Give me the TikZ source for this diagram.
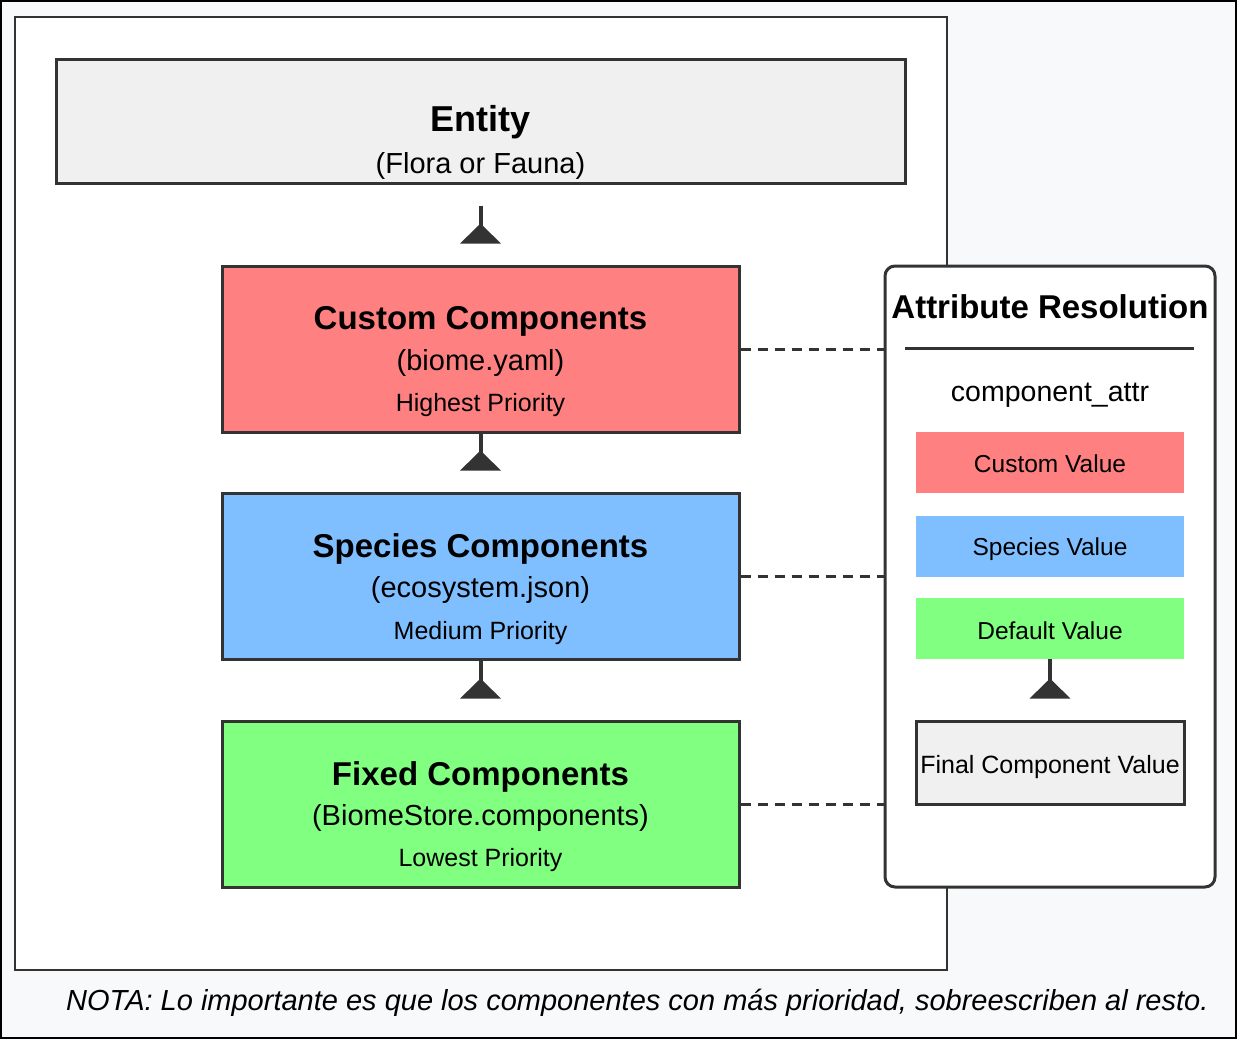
\documentclass[tikz,border=0pt]{standalone}
\usepackage{fontspec}
\setmainfont{Liberation Sans}
\usetikzlibrary{arrows.meta,positioning,calc}
\definecolor{edgegray}{HTML}{333333}
\definecolor{pagebg}{HTML}{F8F9FA}
\definecolor{boxgray}{HTML}{F0F0F0}
\definecolor{customred}{HTML}{FF8080}
\definecolor{speciesblue}{HTML}{80BFFF}
\definecolor{fixedgreen}{HTML}{80FF80}

\begin{document}
\begin{tikzpicture}[x=1pt,y=-1pt,
    compbox/.style={draw=edgegray,line width=3pt,minimum width=517pt,minimum height=166pt,inner sep=0pt},
    valbox/.style={minimum width=268pt,minimum height=61pt,inner sep=0pt},
    txt/.style={anchor=base,inner sep=0pt},
    bigtitle/.style={txt,font=\fontsize{33}{40}\selectfont\bfseries},
    subtitle/.style={txt,font=\fontsize{29}{35}\selectfont},
    small/.style={txt,font=\fontsize{25}{30}\selectfont},
    inh/.style={draw=edgegray,line width=4pt,-{Triangle[reversed,width=40pt,length=20pt]}},
    link/.style={draw=edgegray,line width=3pt,dash pattern=on 10pt off 7pt}]
    % page and frame
    \fill [pagebg,draw=black,line width=2pt] (1,1) rectangle (1236,1038);
    \draw [edgegray,line width=2pt,fill=white] (15,17) rectangle (947,970);

    % entity
    \node [compbox,fill=boxgray,minimum width=849pt,minimum height=124pt] (entity) at (480.5,121) {};
    \node [txt,font=\fontsize{36}{43}\selectfont\bfseries] (entity-t) at (480.5,131) {Entity};
    \node [subtitle] (entity-s) at (480.5,173.5) {(Flora or Fauna)};

    % component layers
    \node [compbox,fill=customred] (cust) at (480.5,349) {};
    \node [bigtitle] (cust-t) at (480.5,329) {Custom Components};
    \node [subtitle] (cust-s) at (480.5,370) {(biome.yaml)};
    \node [small] (cust-p) at (480.5,411) {Highest Priority};

    \node [compbox,fill=speciesblue] (spec) at (480.5,576) {};
    \node [bigtitle] (spec-t) at (480.5,557) {Species Components};
    \node [subtitle] (spec-s) at (480.5,597) {(ecosystem.json)};
    \node [small] (spec-p) at (480.5,639) {Medium Priority};

    \node [compbox,fill=fixedgreen] (fixed) at (480.5,804) {};
    \node [bigtitle] (fixed-t) at (480.5,785) {Fixed Components};
    \node [subtitle] (fixed-s) at (480.5,825) {(BiomeStore.components)};
    \node [small] (fixed-p) at (480.5,866) {Lowest Priority};

    \draw [inh] ($(entity.south)+(0,21)$) -- ($(cust.north)+(0,-21)$);
    \draw [inh] (cust.south) -- ($(spec.north)+(0,-21)$);
    \draw [inh] (spec.south) -- ($(fixed.north)+(0,-21)$);

    % resolution panel
    \node [draw=edgegray,line width=3pt,fill=white,rounded corners=10pt,minimum width=330pt,minimum height=621pt,inner sep=0pt] (panel) at (1050,576.5) {};
    \node [bigtitle] (panel-t) at (1050,318) {Attribute Resolution};
    \coordinate (rule-l) at (905,348);
    \coordinate (rule-r) at (1194,348);
    \draw [edgegray,line width=3pt] (rule-l) -- (rule-r);
    \node [txt,font=\fontsize{28.5}{34}\selectfont] (attr) at (1050,401) {component\_attr};

    \node [valbox,fill=customred] (custv) at (1050,462.5) {};
    \node [txt,font=\fontsize{24.5}{29}\selectfont] (custv-t) at (1050,472) {Custom Value};
    \node [valbox,fill=speciesblue] (specv) at (1050,546) {};
    \node [txt,font=\fontsize{24.5}{29}\selectfont] (specv-t) at (1050,555.5) {Species Value};
    \node [valbox,fill=fixedgreen] (defv) at (1050,628) {};
    \node [txt,font=\fontsize{24.5}{29}\selectfont] (defv-t) at (1050,639) {Default Value};
    \node [valbox,draw=edgegray,line width=3pt,fill=boxgray,minimum height=83pt] (final) at (1050,762.5) {};
    \node [txt,font=\fontsize{25}{30}\selectfont] (final-t) at (1050,773) {Final Component Value};

    \draw [inh] (defv.south) -- ($(final.north)+(0,-21)$);

    % dashed links
    \draw [link] (cust.east) -- (cust.east -| panel.west);
    \draw [link] (spec.east) -- (spec.east -| panel.west);
    \draw [link] (fixed.east) -- (fixed.east -| panel.west);

    \node [txt,anchor=base west,font=\fontsize{29}{35}\selectfont\itshape] (nota) at (66,1010) {NOTA: Lo importante es que los componentes con más prioridad, sobreescriben al resto.};
\end{tikzpicture}
\end{document}
